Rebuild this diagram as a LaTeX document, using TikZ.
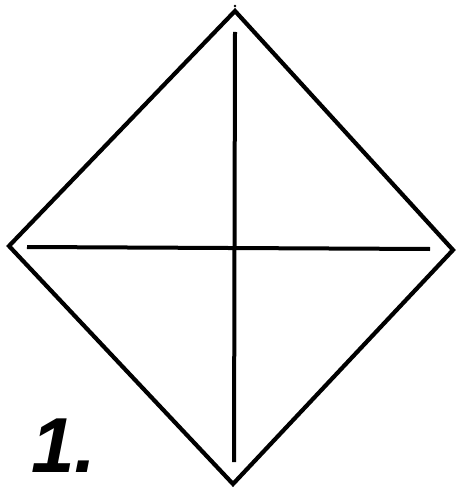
\documentclass[tikz,border=0pt]{standalone}
\usepackage{fontspec}
\setmainfont{Liberation Sans}
\begin{document}
\begin{tikzpicture}[x=1pt,y=-1pt,
  edge/.style={line width=4.2pt,line join=miter,black},
  inner/.style={line width=4pt,black},
  numlabel/.style={font=\fontsize{78}{78}\selectfont\bfseries\itshape,inner sep=0pt,anchor=base west}]
\useasboundingbox[fill=white] (0,0) rectangle (461,489);
\coordinate (T) at (235,11);
\coordinate (L) at (9,246);
\coordinate (R) at (453,250);
\coordinate (B) at (233,484);
\coordinate (vt) at (235,32);
\coordinate (vb) at (234,462);
\coordinate (hl) at (27,247);
\coordinate (hr) at (430,249);
\draw[edge] (T) -- (R) -- (B) -- (L) -- cycle;
\draw[inner] (vt) -- (vb);
\draw[inner] (hl) -- (hr);
\fill (235,6) circle (1.3);
\node[numlabel] (n1) at (31,472) {1.};
\end{tikzpicture}
\end{document}
